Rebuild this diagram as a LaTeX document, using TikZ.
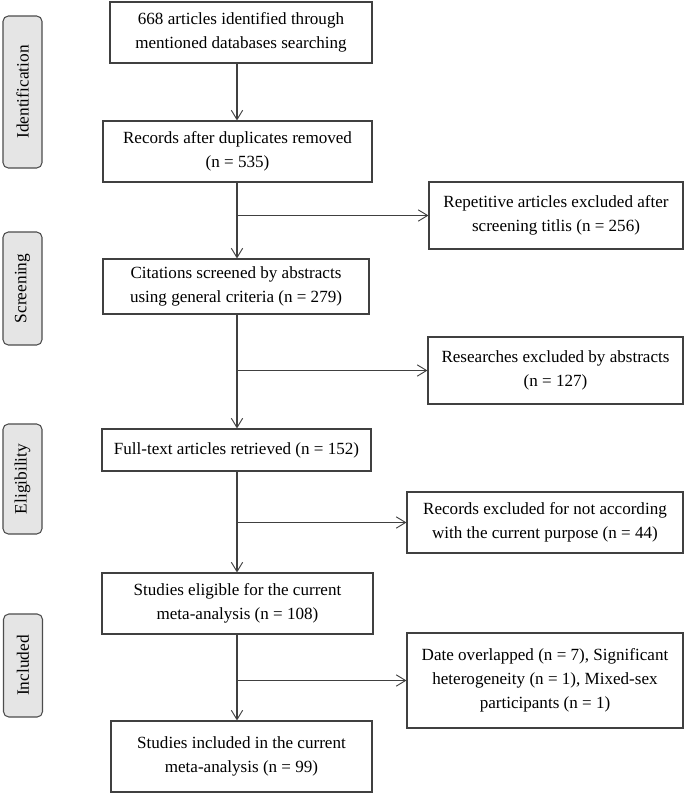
\documentclass[tikz,border=0pt]{standalone}
\usepackage{fontspec}
\setmainfont{Liberation Serif}
\usetikzlibrary{arrows.meta}
\begin{document}
\begin{tikzpicture}[x=0.75pt,y=-0.75pt,
  box/.style={draw=black!75,line width=0.8pt,align=center,inner sep=0pt,
    font=\fontsize{12.8}{18}\selectfont},
  side/.style={draw=black!70,fill=black!10,line width=0.8pt,rounded corners=4pt,
    inner sep=0pt,rotate=90,minimum height=29.25pt,font=\fontsize{13}{18}\selectfont},
  arr/.style={draw=black!75,line width=0.8pt,-{Straight Barb[length=7pt,width=8.5pt,line width=0.7pt]}},
  ln/.style={draw=black!75,line width=0.8pt}]
\useasboundingbox (0,0) rectangle (685,794);
% side labels
\node[side,minimum width=152*0.75pt] (s1) at (22.5,92) {Identification};
\node[side,minimum width=113*0.75pt] (s2) at (22.5,288.5) {Screening};
\node[side,minimum width=110*0.75pt] (s3) at (22.5,479) {Eligibility};
\node[side,minimum width=103*0.75pt] (s4) at (23,665.5) {Included};
% main boxes
\node[box,minimum width=262*0.75pt,minimum height=61*0.75pt] (b1) at (241,32.5)
  {668 articles identified through\\mentioned databases searching};
\node[box,minimum width=269*0.75pt,minimum height=61*0.75pt] (b2) at (237.5,151.5)
  {Records after duplicates removed\\(n = 535)};
\node[box,minimum width=266*0.75pt,minimum height=55*0.75pt] (b3) at (236,286.5)
  {Citations screened by abstracts\\using general criteria (n = 279)};
\node[box,minimum width=269*0.75pt,minimum height=42*0.75pt] (b4) at (236.5,450)
  {Full-text articles retrieved (n = 152)};
\node[box,minimum width=271*0.75pt,minimum height=61*0.75pt] (b5) at (237.5,603.5)
  {Studies eligible for the current\\meta-analysis (n = 108)};
\node[box,minimum width=261*0.75pt,minimum height=71*0.75pt] (b6) at (241.5,756.5)
  {Studies included in the current\\meta-analysis (n = 99)};
% right boxes
\node[box,minimum width=254*0.75pt,minimum height=67*0.75pt] (r1) at (556,215.5)
  {Repetitive articles excluded after\\screening titlis (n = 256)};
\node[box,minimum width=255*0.75pt,minimum height=67*0.75pt] (r2) at (555.5,370.5)
  {Researches excluded by abstracts\\(n = 127)};
\node[box,minimum width=276*0.75pt,minimum height=61*0.75pt] (r3) at (545,522.5)
  {Records excluded for not according\\with the current purpose (n = 44)};
\node[box,minimum width=276*0.75pt,minimum height=95*0.75pt] (r4) at (545,680.5)
  {Date overlapped (n = 7), Significant\\heterogeneity (n = 1), Mixed-sex\\participants (n = 1)};
% spine
\coordinate (sp) at (237,0);
\draw[arr] (b1.south -| sp) -- (b2.north -| sp);
\draw[arr] (b2.south -| sp) -- (b3.north -| sp);
\draw[arr] (b3.south -| sp) -- (b4.north -| sp);
\draw[arr] (b4.south -| sp) -- (b5.north -| sp);
\draw[arr] (b5.south -| sp) -- (b6.north -| sp);
\draw[arr] (sp |- r1.west) -- (r1.west);
\draw[arr] (sp |- r2.west) -- (r2.west);
\draw[arr] (sp |- r3.west) -- (r3.west);
\draw[arr] (sp |- r4.west) -- (r4.west);
\end{tikzpicture}
\end{document}
